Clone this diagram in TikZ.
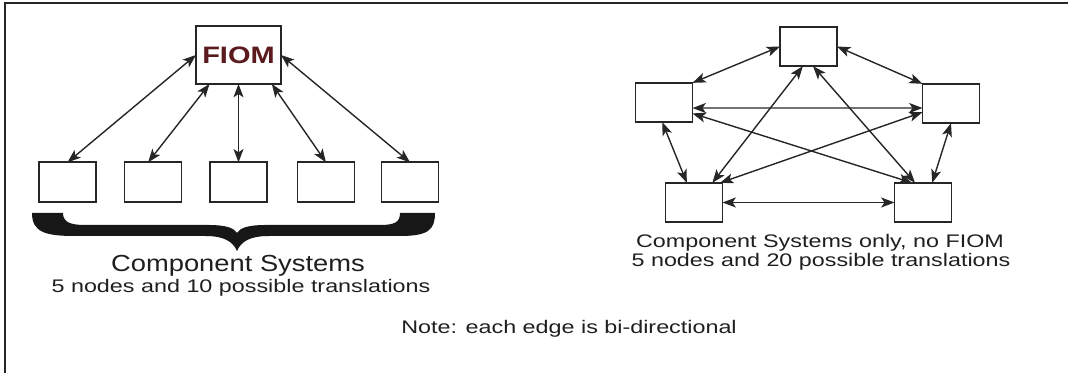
\documentclass[tikz,border=0pt]{standalone}
\usepackage{fontspec}
\setmainfont{Liberation Sans}
\usepackage{graphicx}
\usetikzlibrary{arrows.meta}

\definecolor{fiomred}{HTML}{5A1A1E}
\definecolor{edgegray}{HTML}{262626}

\newcommand{\squeezed}[2]{\scalebox{1}[#1]{#2}}

\tikzset{every picture/.style={line width=0.75pt}}
\tikzset{
  cbox/.style={draw=edgegray, line width=1.45pt, inner sep=0pt, outer sep=0pt, minimum width=42.75pt, minimum height=29.5pt},
  link/.style={draw=edgegray, line width=1.05pt, {Stealth[length=10pt,width=7.5pt,inset=2.5pt]}-{Stealth[length=10pt,width=7.5pt,inset=2.5pt]}},
  caption/.style={inner sep=0pt, text=black!88}
}

\begin{document}
\begin{tikzpicture}[x=0.75pt,y=0.75pt,yscale=-1,xscale=1]
\useasboundingbox (0,0) rectangle (1068,373);

%Frame
\draw [line width=1.5pt, draw=edgegray]  (5,373) -- (5,3) -- (1068,3) ;

%Shape: Rectangle [FIOM]
\node [cbox, minimum width=63.75pt, minimum height=43.5pt] (fiom) at (238.5,55) {\fontsize{21.75}{26}\selectfont\bfseries\color{fiomred}\squeezed{0.82}{FIOM}};
%Shape: Rectangle [component systems]
\node [cbox] (b1) at (67.5,182) {};
\node [cbox] (b2) at (153,182) {};
\node [cbox] (b3) at (238.5,182) {};
\node [cbox] (b4) at (326,182) {};
\node [cbox] (b5) at (410,182) {};

%Straight Lines [hub]
\draw [link]  (fiom.west) -- (b1.north) ;
\draw [link]  (fiom.-135) -- (b2.104) ;
\draw [link]  (fiom.south) -- (b3.north) ;
\draw [link]  (fiom.-41) -- (b4.north) ;
\draw [link]  (fiom.east) -- (b5.north) ;

%Shape: Brace
\fill [edgegray!60!black]  (32,213) .. controls (32,232) and (45,236) .. (75,236) -- (205,236) .. controls (225,236) and (233,242) .. (237,251) .. controls (241,242) and (249,236) .. (269,236) -- (400,236) .. controls (428,236) and (435,230) .. (435,213) -- (400,213) .. controls (400,222) and (395,225) .. (380,225) -- (265,225) .. controls (248,225) and (240,228) .. (237,233) .. controls (234,228) and (226,225) .. (209,225) -- (85,225) .. controls (70,225) and (63,222) .. (63,213) -- cycle ;

% Text Node
\node [caption] (lefttitle) at (238,266) {\fontsize{20.5}{24}\selectfont\squeezed{0.85}{Component Systems}};
% Text Node
\node [caption] (leftcount) at (241,288) {\fontsize{17.5}{20}\selectfont\squeezed{0.78}{5 nodes and 10 possible translations}};

%Shape: Rectangle [mesh]
\node [cbox] (top) at (808.5,46.5) {};
\node [cbox] (left) at (664,102.5) {};
\node [cbox] (right) at (951,103.5) {};
\node [cbox] (botleft) at (694,202.5) {};
\node [cbox] (botright) at (923,202.5) {};

%Straight Lines [mesh]
\draw [link]  (top.west) -- (left.north east) ;
\draw [link]  (top.east) -- (right.north west) ;
\draw [link]  (left.-11) -- (right.-171) ;
\draw [link]  (left.-95) -- (botleft.110) ;
\draw [link]  (right.-90) -- (botright.65) ;
\draw [link]  (botleft.east) -- (botright.west) ;
\draw [link]  (top.-106) -- (botleft.47) ;
\draw [link]  (top.-77) -- (botright.112) ;
\draw [link]  (left.-21) -- (botright.119) ;
\draw [link]  (right.-163) -- (botleft.37) ;

% Text Node
\node [caption] (righttitle) at (820,243) {\fontsize{17.5}{20}\selectfont\squeezed{0.78}{Component Systems only, no FIOM}};
% Text Node
\node [caption] (rightcount) at (821,262) {\fontsize{17.5}{20}\selectfont\squeezed{0.78}{5 nodes and 20 possible translations}};
% Text Node
\node [caption] (note) at (569,329) {\fontsize{17.5}{20}\selectfont\squeezed{0.78}{Note: each edge is bi-directional}};

\end{tikzpicture}
\end{document}
